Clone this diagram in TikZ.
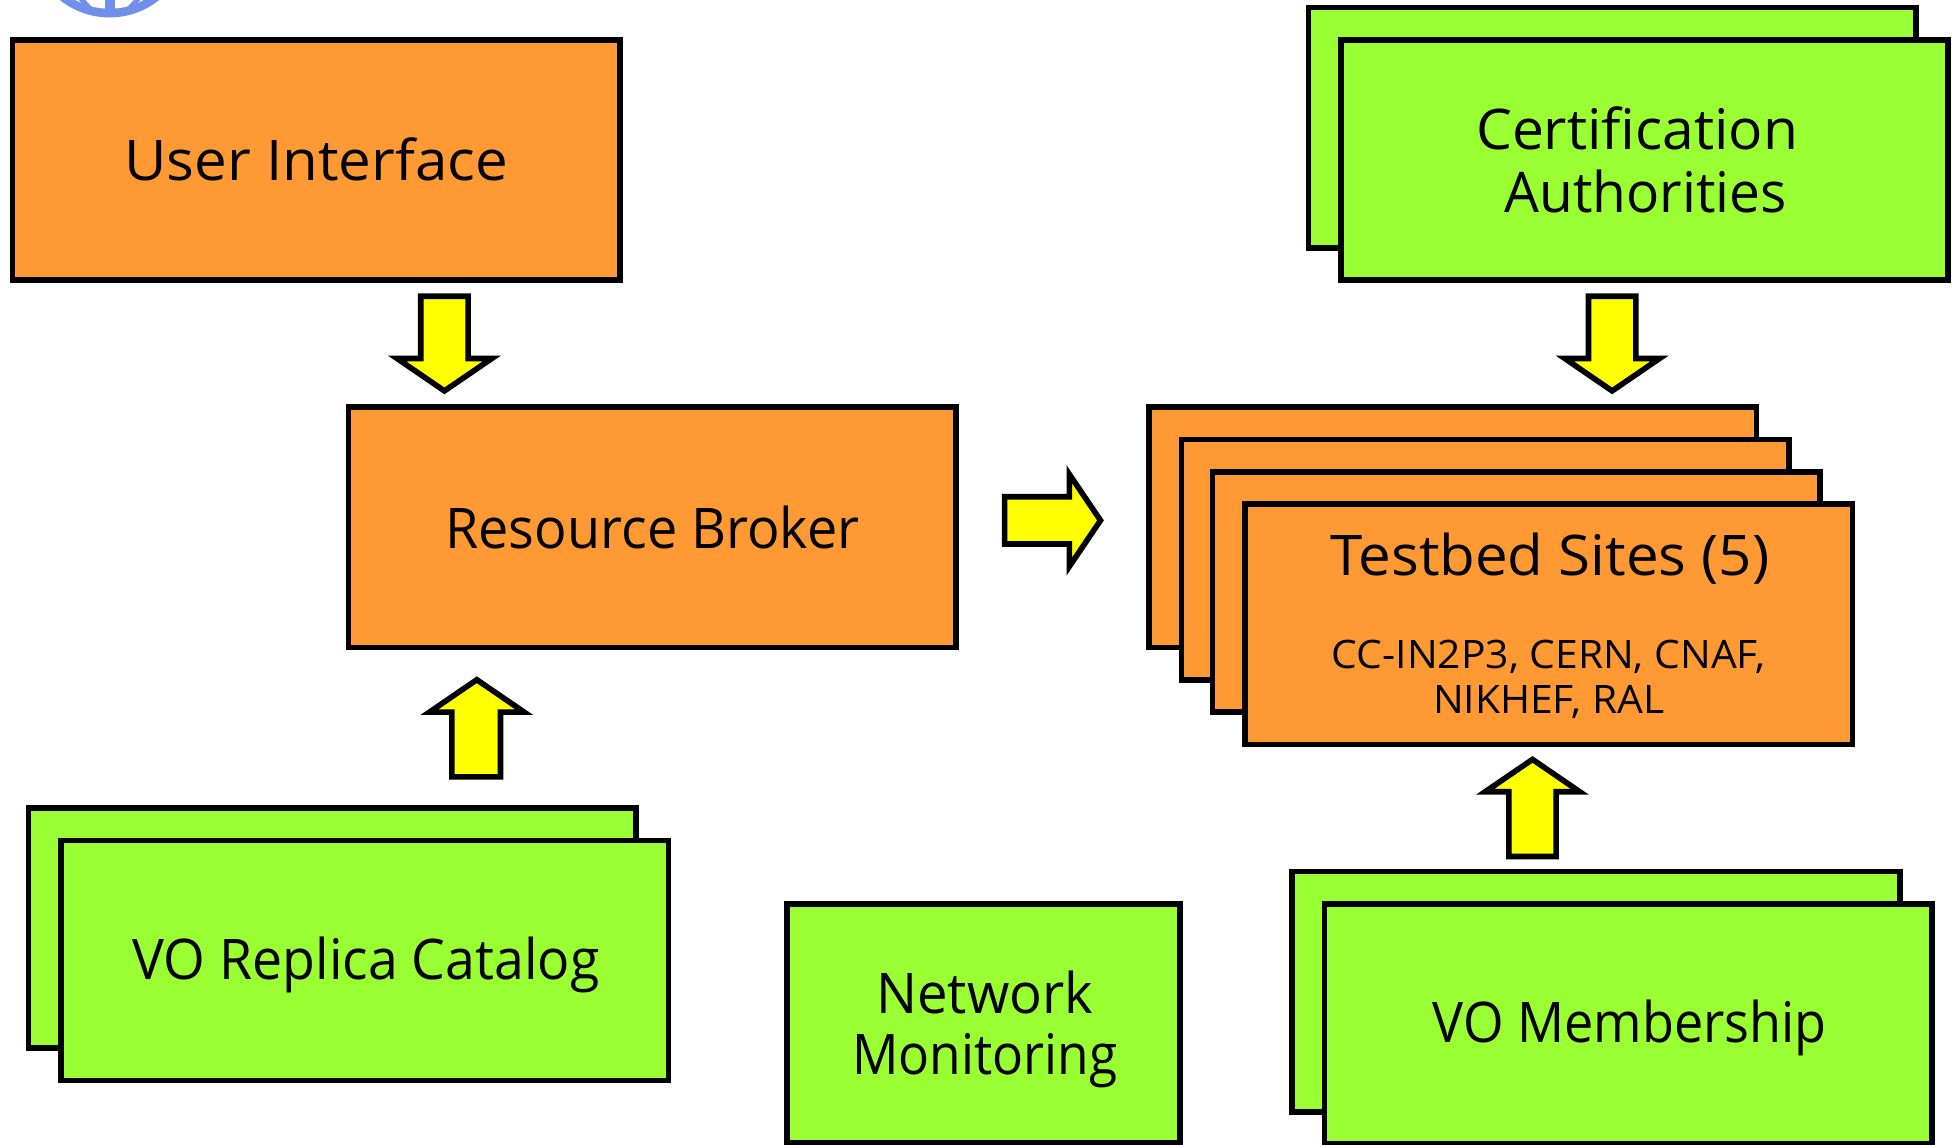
\documentclass[tikz,border=0pt]{standalone}
\usepackage{graphicx}
\usepackage{fontspec}
\setmainfont{Open Sans}
\newfontfamily\stretchfont[FakeStretch=1.04]{Open Sans}
\definecolor{boxorange}{HTML}{FF9933}
\definecolor{boxgreen}{HTML}{99FF33}
\definecolor{arrowyellow}{HTML}{FFFF00}
\definecolor{logoblue}{HTML}{6F8FEA}
\newcommand{\bigtxt}{\stretchfont\fontsize{45}{52}\selectfont}
\newcommand{\smalltxt}{\stretchfont\fontsize{31.5}{36}\selectfont}
\newcommand{\squeezed}[2]{\scalebox{#1}[1]{#2}}
\tikzset{
  panel/.style={draw=black,line width=4.5pt,rectangle,inner sep=0pt,outer sep=0pt,align=center,anchor=north west,font=\bigtxt},
  orangebox/.style={panel,fill=boxorange},
  greenbox/.style={panel,fill=boxgreen},
  wide/.style={minimum width=488pt,minimum height=193pt},
  blockarrow/.style={draw=black,line width=4.5pt,fill=arrowyellow,miter limit=10}
}
\begin{document}
\begin{tikzpicture}[x=1pt,y=-1pt]
\useasboundingbox (0,0) rectangle (1568,919);
% logo fragment
\begin{scope}
\clip (40,0) rectangle (140,16);
\fill[logoblue] (88,-50) circle (64);
\fill[white] (88,-50) circle (57);
\fill[logoblue] (84,-10) rectangle (92,12);
\draw[logoblue,line width=4pt] (64,-2) -- (76,11);
\draw[logoblue,line width=4pt] (112,-2) -- (100,11);
\end{scope}
% boxes
\node[orangebox,wide] (ui) at (10,32) {};
\node[orangebox,wide] (rb) at (280,327) {};
\node[orangebox,wide] (site1) at (923,327) {};
\node[orangebox,wide] (site2) at (949,353) {};
\node[orangebox,wide] (site3) at (974,379) {};
\node[orangebox,wide] (site4) at (1000,405) {};
\node[greenbox,wide] (caback) at (1051,6) {};
\node[greenbox,wide] (ca) at (1077,32) {};
\node[greenbox,wide] (rcback) at (23,649) {};
\node[greenbox,wide] (rc) at (49,675) {};
\node[greenbox,minimum width=316pt,minimum height=192pt] (nm) at (632,726) {};
\node[greenbox,wide] (vmback) at (1038,700) {};
\node[greenbox,wide] (vm) at (1064,726) {};
% texts
\node[font=\bigtxt] (tui) at (254,128) {User Interface};
\node[font=\bigtxt] (trb) at (524,424) {\squeezed{0.927}{Resource Broker}};
\node[font=\bigtxt] (tca1) at (1315,103) {\squeezed{0.977}{Certification}};
\node[font=\bigtxt] (tca2) at (1322,154) {\squeezed{0.945}{Authorities}};
\node[font=\bigtxt] (tsite) at (1245,449) {Testbed Sites (5)};
\node[font=\smalltxt,align=center] (tsub) at (1244,546) {CC-IN2P3, CERN, CNAF,\\NIKHEF, RAL};
\node[font=\bigtxt] (trc) at (294,775) {\squeezed{0.92}{VO Replica Catalog}};
\node[font=\bigtxt] (tnm1) at (791,797) {\squeezed{0.935}{Network}};
\node[font=\bigtxt] (tnm2) at (791,852) {\squeezed{0.883}{Monitoring}};
\node[font=\bigtxt] (tvm) at (1309,826) {\squeezed{0.895}{VO Membership}};
% block arrows
\draw[blockarrow] (338,238) -- (376,238) -- (376,288) -- (395,288) -- (357,314) -- (319,288) -- (338,288) -- cycle;
\draw[blockarrow] (1276,238) -- (1314,238) -- (1314,288) -- (1333,288) -- (1295,314) -- (1257,288) -- (1276,288) -- cycle;
\draw[blockarrow] (807,399) -- (859,399) -- (859,381) -- (884,418) -- (859,455) -- (859,437) -- (807,437) -- cycle;
\draw[blockarrow] (363,624) -- (402,624) -- (402,572) -- (421,572) -- (383,546) -- (345,572) -- (363,572) -- cycle;
\draw[blockarrow] (1212,688) -- (1250,688) -- (1250,636) -- (1269,636) -- (1231,610) -- (1193,636) -- (1212,636) -- cycle;
\end{tikzpicture}
\end{document}
